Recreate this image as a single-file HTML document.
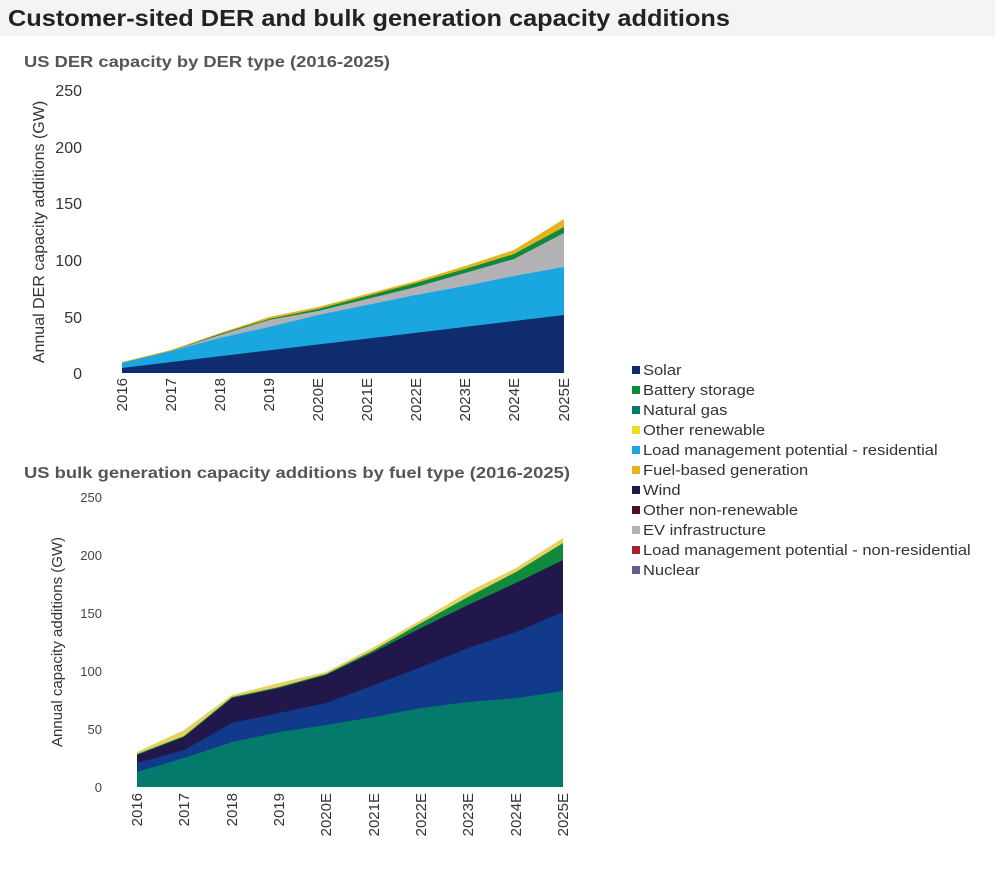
<!DOCTYPE html>
<html><head><style>
body{margin:0;background:#fff;font-family:"Liberation Sans",Arial,sans-serif}
</style></head><body>
<svg width="1000" height="872" xmlns="http://www.w3.org/2000/svg" font-family="Liberation Sans, Arial, sans-serif">
<rect x="0" y="0" width="995" height="36" fill="#f4f4f4"/>
<text x="8" y="26" font-size="23" font-weight="bold" fill="#222" textLength="722" lengthAdjust="spacingAndGlyphs">Customer-sited DER and bulk generation capacity additions</text>
<text x="24" y="67" font-size="16" font-weight="bold" fill="#555" textLength="366" lengthAdjust="spacingAndGlyphs">US DER capacity by DER type (2016-2025)</text>
<text x="24" y="478" font-size="16" font-weight="bold" fill="#555" textLength="546" lengthAdjust="spacingAndGlyphs">US bulk generation capacity additions by fuel type (2016-2025)</text>
<g font-size="16" fill="#333" text-anchor="end">
<text x="82" y="96">250</text><text x="82" y="153">200</text><text x="82" y="209">150</text><text x="82" y="266">100</text><text x="82" y="323">50</text><text x="82" y="379">0</text>
</g>
<text transform="translate(44,232) rotate(-90)" font-size="16" fill="#333" text-anchor="middle">Annual DER capacity additions (GW)</text>
<polygon fill="#e3b420" points="122,362 171,350 220,333 269,317 318,307 367,294 416,281 465,266 514,250 564,219 564,373 122,373"/>
<polygon fill="#0f8a3c" points="122,363 171,351 220,334 269,319 318,309 367,296 416,283 465,269 514,254 564,227 564,373 122,373"/>
<polygon fill="#b1b1b6" points="122,363 171,351 220,335 269,320 318,311 367,299 416,287 465,273 514,259 564,233 564,373 122,373"/>
<polygon fill="#1aa7e0" points="122,363 171,351 220,338 269,327 318,315 367,305 416,295 465,286 514,276 564,267 564,373 122,373"/>
<polygon fill="#0f2d6e" points="122,368 564,315 564,373 122,373"/>
<g font-size="15" fill="#333" text-anchor="end">
<text transform="translate(127,378) rotate(-90)">2016</text>
<text transform="translate(176,378) rotate(-90)">2017</text>
<text transform="translate(225,378) rotate(-90)">2018</text>
<text transform="translate(274,378) rotate(-90)">2019</text>
<text transform="translate(323,378) rotate(-90)">2020E</text>
<text transform="translate(372,378) rotate(-90)">2021E</text>
<text transform="translate(421,378) rotate(-90)">2022E</text>
<text transform="translate(470,378) rotate(-90)">2023E</text>
<text transform="translate(519,378) rotate(-90)">2024E</text>
<text transform="translate(569,378) rotate(-90)">2025E</text>
</g>
<g font-size="13" fill="#444" text-anchor="end">
<text x="102" y="502">250</text><text x="102" y="560">200</text><text x="102" y="618">150</text><text x="102" y="676">100</text><text x="102" y="734">50</text><text x="102" y="792">0</text>
</g>
<text transform="translate(62,642) rotate(-90)" font-size="15" fill="#333" text-anchor="middle">Annual capacity additions (GW)</text>
<polygon fill="#e8d060" points="137,752 184,730 232,695 279,683 326,672 374,647 421,620 468,592 516,568 563,538 563,787 137,787"/>
<polygon fill="#0f8a3c" points="137,754 184,736 232,697 279,687 326,674 374,650 421,623 468,597 516,572 563,543 563,787 137,787"/>
<polygon fill="#21174a" points="137,755 184,737 232,698 279,688 326,675 374,652 421,628 468,605 516,583 563,560 563,787 137,787"/>
<polygon fill="#123a8a" points="137,763 184,750 232,723 279,713 326,703 374,685 421,667 468,648 516,632 563,612 563,787 137,787"/>
<polygon fill="#037a6c" points="137,772 184,758 232,742 279,732 326,725 374,717 421,708 468,702 516,698 563,691 563,787 137,787"/>
<g font-size="15" fill="#333" text-anchor="end">
<text transform="translate(142,793) rotate(-90)">2016</text>
<text transform="translate(189,793) rotate(-90)">2017</text>
<text transform="translate(237,793) rotate(-90)">2018</text>
<text transform="translate(284,793) rotate(-90)">2019</text>
<text transform="translate(331,793) rotate(-90)">2020E</text>
<text transform="translate(379,793) rotate(-90)">2021E</text>
<text transform="translate(426,793) rotate(-90)">2022E</text>
<text transform="translate(473,793) rotate(-90)">2023E</text>
<text transform="translate(521,793) rotate(-90)">2024E</text>
<text transform="translate(568,793) rotate(-90)">2025E</text>
</g>
<g>
<rect x="632" y="366" width="8" height="8" fill="#0f2d6e"/>
<rect x="632" y="386" width="8" height="8" fill="#0f8a3c"/>
<rect x="632" y="406" width="8" height="8" fill="#037a6c"/>
<rect x="632" y="426" width="8" height="8" fill="#f0dc20"/>
<rect x="632" y="446" width="8" height="8" fill="#1aa7e0"/>
<rect x="632" y="466" width="8" height="8" fill="#e3b420"/>
<rect x="632" y="486" width="8" height="8" fill="#21174a"/>
<rect x="632" y="506" width="8" height="8" fill="#4a1020"/>
<rect x="632" y="526" width="8" height="8" fill="#b1b1b6"/>
<rect x="632" y="546" width="8" height="8" fill="#a8202c"/>
<rect x="632" y="566" width="8" height="8" fill="#6a5a8a"/>
</g>
<g font-size="14.5" fill="#333" transform="translate(643,0) scale(1.14,1) translate(-643,0)">
<text x="643" y="375">Solar</text>
<text x="643" y="395">Battery storage</text>
<text x="643" y="415">Natural gas</text>
<text x="643" y="435">Other renewable</text>
<text x="643" y="455">Load management potential - residential</text>
<text x="643" y="475">Fuel-based generation</text>
<text x="643" y="495">Wind</text>
<text x="643" y="515">Other non-renewable</text>
<text x="643" y="535">EV infrastructure</text>
<text x="643" y="555">Load management potential - non-residential</text>
<text x="643" y="575">Nuclear</text>
</g>
</svg>
</body></html>
